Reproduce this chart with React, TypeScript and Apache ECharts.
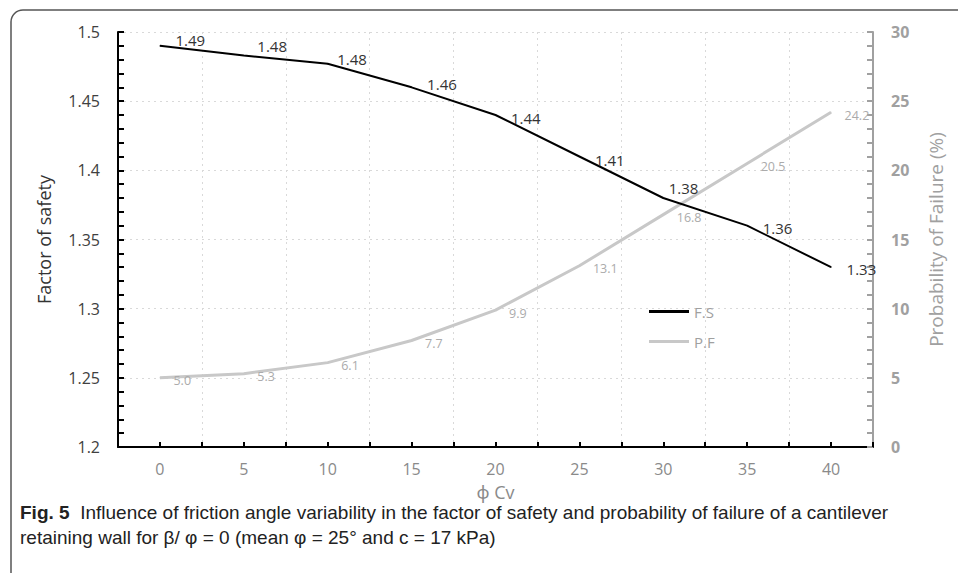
import React, { useEffect, useRef } from "react";
import * as echarts from "echarts";

const categories = ["0", "5", "10", "15", "20", "25", "30", "35", "40"];
const factorOfSafety = [1.49, 1.483, 1.477, 1.46, 1.44, 1.41, 1.38, 1.36, 1.33];
const probabilityOfFailure = [5.0, 5.3, 6.1, 7.7, 9.9, 13.1, 16.8, 20.5, 24.2];
const fsLabelOffsets = [[0, -6], [-2, -10], [-6, -5], [0, -3], [0, 3], [0, 3], [-10, -10], [0, 2], [0, 2]];

const FONT = "'Open Sans', 'Noto Sans', sans-serif";

export default function App() {
  const ref = useRef<HTMLDivElement>(null);
  useEffect(() => {
    if (!ref.current) return;
    const chart = echarts.init(ref.current, undefined, { renderer: "svg" });
    const option: any = {
      animation: false,
      textStyle: { fontFamily: FONT },
      grid: { left: 118, right: 85, top: 32, bottom: 126, containLabel: false },
      legend: {
        orient: "vertical",
        left: 649,
        top: 301,
        padding: 0,
        itemWidth: 40,
        itemHeight: 3,
        itemGap: 9,
        textStyle: { color: "#a0a0a0", fontSize: 15, fontFamily: FONT, lineHeight: 21 },
        data: [
          { name: "F.S", icon: "rect" },
          { name: "P.F", icon: "rect" },
        ],
      },
      xAxis: [
        {
          type: "category",
          data: categories,
          boundaryGap: true,
          position: "bottom",
          name: "ϕ Cv",
          nameLocation: "middle",
          nameGap: 36,
          nameTextStyle: { color: "#8a8a8a", fontSize: 18, fontFamily: FONT },
          axisLine: { lineStyle: { color: "#000", width: 2 } },
          axisTick: { show: true, inside: true, length: 5, lineStyle: { color: "#000", width: 2 } },
          axisLabel: { color: "#8a8a8a", fontSize: 16, margin: 14, fontFamily: FONT },
          splitLine: { show: true, lineStyle: { color: "#d9d9d9", type: [2, 4], width: 1 } },
        },
        {
          type: "category",
          data: categories,
          boundaryGap: true,
          position: "bottom",
          axisLine: { show: false },
          axisTick: { show: true, inside: true, alignWithLabel: true, length: 5, lineStyle: { color: "#000", width: 2 } },
          axisLabel: { show: false },
          splitLine: { show: false },
        },
      ],
      yAxis: [
        {
          type: "value",
          min: 1.2,
          max: 1.5,
          interval: 0.05,
          position: "left",
          name: "Factor of safety",
          nameLocation: "middle",
          nameRotate: 90,
          nameGap: 65,
          nameTextStyle: { color: "#333", fontSize: 18, fontFamily: FONT },
          axisLine: { show: true, lineStyle: { color: "#000", width: 2 } },
          axisTick: { show: true, inside: true, length: 6, lineStyle: { color: "#000", width: 2 } },
          minorTick: { show: true, splitNumber: 5, length: 6, lineStyle: { color: "#000", width: 2 } },
          axisLabel: {
            color: "#404040",
            fontSize: 16,
            margin: 18,
            fontFamily: FONT,
            formatter: (v: number) => String(+v.toFixed(2)),
          },
          splitLine: { show: true, lineStyle: { color: "#d9d9d9", type: [2, 4], width: 1 } },
        },
        {
          type: "value",
          min: 0,
          max: 30,
          interval: 5,
          position: "right",
          name: "Probability of Failure (%)",
          nameLocation: "middle",
          nameRotate: 90,
          nameGap: 53,
          nameTextStyle: { color: "#a0a0a0", fontSize: 19, fontFamily: FONT },
          axisLine: { show: true, lineStyle: { color: "#a0a0a0", width: 2 } },
          axisTick: { show: true, inside: true, length: 6, lineStyle: { color: "#a0a0a0", width: 2 } },
          minorTick: { show: true, splitNumber: 5, length: 6, lineStyle: { color: "#a0a0a0", width: 2 } },
          axisLabel: { color: "#a0a0a0", fontSize: 16, fontWeight: "bold", margin: 18, fontFamily: FONT },
          splitLine: { show: false },
        },
      ],
      series: [
        {
          name: "F.S",
          type: "line",
          xAxisIndex: 0,
          yAxisIndex: 0,
          symbol: "circle",
          symbolSize: 1,
          showSymbol: true,
          lineStyle: { color: "#000", width: 2 },
          itemStyle: { color: "#000" },
          z: 3,
          label: {
            show: true,
            position: "right",
            distance: 15,
            color: "#333",
            fontSize: 15,
            fontFamily: FONT,
            formatter: (p: any) => Number(p.value).toFixed(2),
          },
          data: factorOfSafety.map((v, i) => ({ value: v, label: { offset: fsLabelOffsets[i] } })),
        },
        {
          name: "P.F",
          type: "line",
          xAxisIndex: 0,
          yAxisIndex: 1,
          symbol: "circle",
          symbolSize: 1,
          showSymbol: true,
          lineStyle: { color: "#c8c8c8", width: 3 },
          itemStyle: { color: "#c8c8c8" },
          z: 2,
          label: {
            show: true,
            position: "right",
            distance: 13,
            offset: [0, 3],
            color: "#ababab",
            fontSize: 12.5,
            fontFamily: FONT,
            formatter: (p: any) => Number(p.value).toFixed(1),
          },
          data: probabilityOfFailure,
        },
      ],
      graphic: [
        {
          type: "rect",
          shape: { x: 11, y: 10, width: 1000, height: 620, r: 12 },
          style: { fill: "none", stroke: "#555", lineWidth: 1.5 },
          silent: true,
        },
        {
          type: "text",
          left: 20,
          top: 500,
          style: {
            text: "{b|Fig. 5}  Influence of friction angle variability in the factor of safety and probability of failure of a cantilever\nretaining wall for β/ φ = 0 (mean φ = 25° and c = 17 kPa)",
            fill: "#222",
            font: "19px 'Liberation Sans Narrow', 'Liberation Sans', sans-serif",
            lineHeight: 25,
            rich: {
              b: { fontWeight: "bold", fill: "#222", fontSize: 19, fontFamily: "'Liberation Sans Narrow', 'Liberation Sans', sans-serif" },
            },
          },
        },
      ],
    };
    chart.setOption(option);
    return () => chart.dispose();
  }, []);
  return (
    <div style={{ position: "absolute", left: 0, top: 0, width: 958, height: 573, background: "#fff" }}>
      <div ref={ref} style={{ width: 958, height: 573 }} />
    </div>
  );
}
